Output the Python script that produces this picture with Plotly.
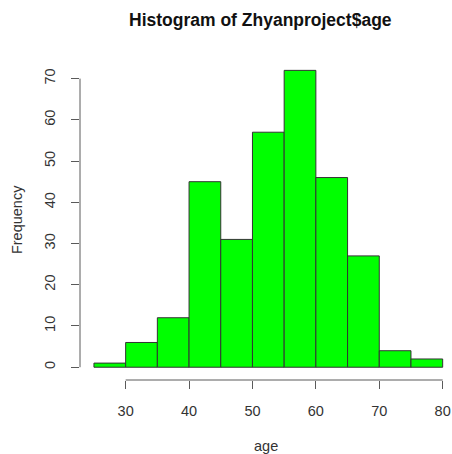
import plotly.graph_objects as go

bin_starts = [25, 30, 35, 40, 45, 50, 55, 60, 65, 70, 75]
bin_width = 5
counts = [1, 6, 12, 45, 31, 57, 72, 46, 27, 4, 2]
x_ticks = [30, 40, 50, 60, 70, 80]
y_ticks = [0, 10, 20, 30, 40, 50, 60, 70]

centers = [s + bin_width / 2 for s in bin_starts]

fig = go.Figure()
fig.add_trace(go.Bar(
    x=centers, y=counts, width=[bin_width] * len(counts),
    marker=dict(color="#00FF00", line=dict(color="#333333", width=1)),
    hoverinfo="x+y",
))

axis_col = "#5a5a5a"
font_fam = "Liberation Sans, Arial, sans-serif"

fig.update_layout(
    width=452, height=454,
    margin=dict(l=80, r=0, t=58, b=74, autoexpand=False),
    plot_bgcolor="white", paper_bgcolor="white",
    showlegend=False,
    font=dict(family=font_fam, size=14.5, color="#333333"),
    xaxis=dict(range=[22.8, 81.47], tickvals=x_ticks, ticks="outside", ticklen=8,
               tickcolor=axis_col, tickwidth=1, showline=False, showgrid=False,
               zeroline=False, ticklabelstandoff=10, automargin=False),
    yaxis=dict(range=[-3.1, 75.0], tickvals=y_ticks, ticks="outside", ticklen=8,
               tickcolor=axis_col, tickwidth=1, showline=False, showgrid=False,
               zeroline=False, tickangle=-90, ticklabelstandoff=10, automargin=False),
    shapes=[
        dict(type="line", xref="x", yref="paper", x0=x_ticks[0], x1=x_ticks[-1], y0=0, y1=0,
             line=dict(color=axis_col, width=1)),
        dict(type="line", xref="paper", yref="y", x0=0, x1=0, y0=y_ticks[0], y1=y_ticks[-1],
             line=dict(color=axis_col, width=1)),
    ],
    annotations=[
        dict(text="<b>Histogram of Zhyanproject$age</b>", xref="paper", yref="paper",
             x=0.484, y=1.118, showarrow=False, xanchor="center", yanchor="middle",
             font=dict(size=17.5, color="#111111")),
        dict(text="Frequency", xref="paper", yref="paper", x=-0.169, y=0.497,
             showarrow=False, textangle=-90, xanchor="center", yanchor="middle"),
        dict(text="age", xref="paper", yref="paper", x=0.5, y=-0.205,
             showarrow=False, xanchor="center", yanchor="middle"),
    ],
)

fig.write_html(
    "out.html",
    config={"displayModeBar": False},
    post_script="document.body.style.margin='0';document.body.style.overflow='hidden';",
)
